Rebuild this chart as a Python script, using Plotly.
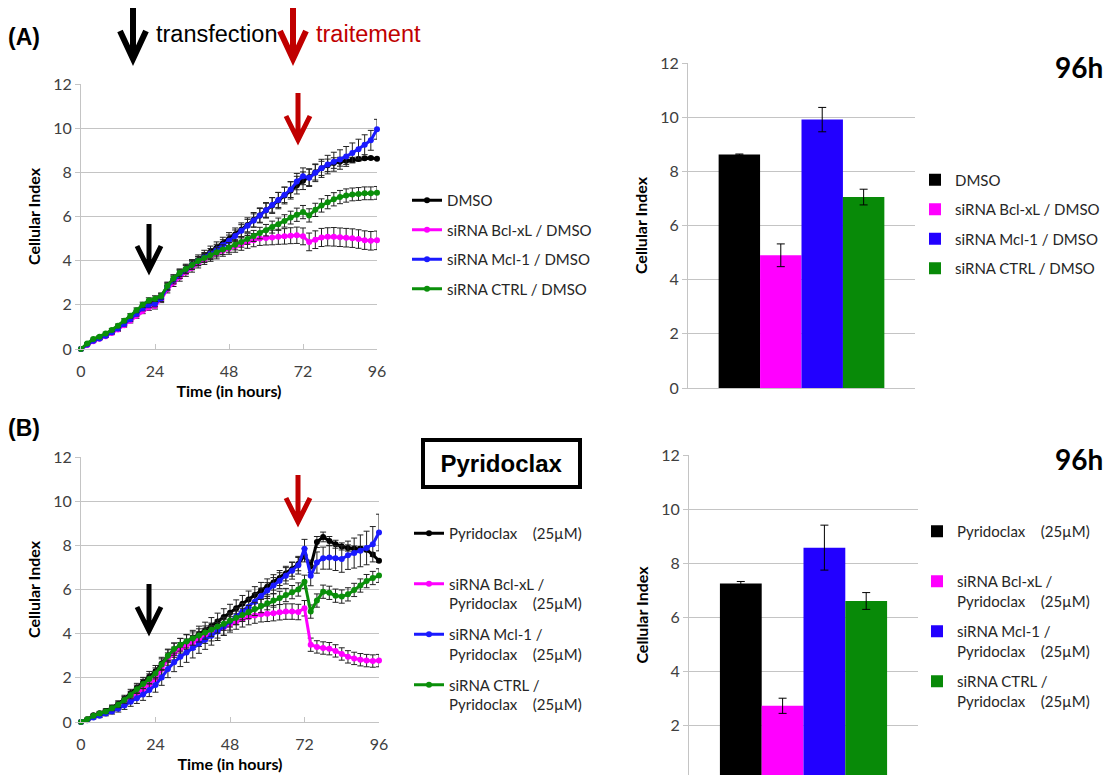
import plotly.graph_objects as go

# page body has an 8px margin, so the figure is drawn 16px smaller and every
# reference pixel position is shifted by 8px
W, H = 1099, 767
OFF = 8

# time points (hours)
hours = [0, 2, 4, 6, 8, 10, 12,
         14, 16, 18, 20, 22, 24, 26,
         28, 30, 32, 34, 36, 38, 40,
         42, 44, 46, 48, 50, 52, 54,
         56, 58, 60, 62, 64, 66, 68,
         70, 72, 74, 76, 78, 80, 82,
         84, 86, 88, 90, 92, 94, 96]

# ---- panel A : DMSO ----
a_dmso = [0.00, 0.20, 0.38, 0.50, 0.62, 0.78, 0.95,
          1.15, 1.38, 1.62, 1.85, 2.02, 2.08, 2.35,
          2.85, 3.15, 3.40, 3.62, 3.82, 4.02, 4.22,
          4.40, 4.58, 4.78, 4.98, 5.18, 5.40, 5.62,
          5.85, 6.05, 6.28, 6.50, 6.72, 6.95, 7.18,
          7.42, 7.62, 7.78, 8.00, 8.18, 8.32, 8.42,
          8.48, 8.52, 8.56, 8.60, 8.64, 8.65, 8.62]
a_bcl = [0.00, 0.18, 0.35, 0.46, 0.58, 0.72, 0.88,
         1.08, 1.28, 1.50, 1.72, 1.88, 1.95, 2.25,
         2.70, 3.00, 3.25, 3.48, 3.68, 3.88, 4.05,
         4.20, 4.32, 4.45, 4.55, 4.65, 4.75, 4.85,
         4.93, 5.00, 5.03, 5.05, 5.08, 5.10, 5.13,
         5.15, 5.10, 4.85, 4.95, 5.05, 5.08, 5.08,
         5.06, 5.04, 5.02, 4.98, 4.93, 4.90, 4.92]
a_mcl = [0.00, 0.20, 0.37, 0.48, 0.60, 0.76, 0.93,
         1.13, 1.35, 1.60, 1.85, 2.00, 2.05, 2.30,
         2.80, 3.12, 3.38, 3.60, 3.80, 3.98, 4.15,
         4.32, 4.50, 4.70, 4.90, 5.12, 5.35, 5.58,
         5.82, 6.05, 6.28, 6.52, 6.75, 6.98, 7.22,
         7.58, 7.82, 7.75, 7.98, 8.18, 8.35, 8.48,
         8.58, 8.72, 8.88, 9.05, 9.25, 9.45, 9.95]
a_ctrl = [0.00, 0.25, 0.45, 0.56, 0.70, 0.86, 1.05,
          1.28, 1.50, 1.75, 2.00, 2.20, 2.28, 2.40,
          2.85, 3.20, 3.45, 3.62, 3.80, 3.98, 4.12,
          4.25, 4.38, 4.50, 4.60, 4.72, 4.85, 4.98,
          5.12, 5.25, 5.38, 5.52, 5.65, 5.80, 5.95,
          6.08, 6.20, 6.05, 6.30, 6.50, 6.65, 6.78,
          6.88, 6.95, 7.00, 7.02, 7.05, 7.05, 7.07]

a_dmso_err = [0.00, 0.03, 0.04, 0.05, 0.06, 0.07, 0.08,
              0.09, 0.10, 0.11, 0.12, 0.13, 0.14, 0.16,
              0.18, 0.20, 0.21, 0.22, 0.23, 0.24, 0.25,
              0.26, 0.27, 0.28, 0.29, 0.30, 0.31, 0.32,
              0.33, 0.34, 0.35, 0.36, 0.37, 0.38, 0.39,
              0.40, 0.40, 0.38, 0.35, 0.32, 0.28, 0.24,
              0.20, 0.16, 0.12, 0.09, 0.06, 0.04, 0.02]
a_bcl_err = [0.00, 0.03, 0.04, 0.05, 0.06, 0.07, 0.08,
             0.09, 0.10, 0.11, 0.12, 0.13, 0.14, 0.15,
             0.16, 0.17, 0.18, 0.19, 0.20, 0.21, 0.22,
             0.23, 0.24, 0.25, 0.26, 0.27, 0.28, 0.29,
             0.30, 0.31, 0.32, 0.33, 0.34, 0.35, 0.36,
             0.37, 0.38, 0.40, 0.40, 0.41, 0.41, 0.42,
             0.42, 0.42, 0.42, 0.42, 0.42, 0.42, 0.42]
a_mcl_err = [0.00, 0.03, 0.04, 0.05, 0.06, 0.07, 0.08,
             0.09, 0.10, 0.11, 0.12, 0.13, 0.14, 0.15,
             0.16, 0.17, 0.18, 0.19, 0.20, 0.21, 0.22,
             0.23, 0.24, 0.25, 0.26, 0.27, 0.28, 0.29,
             0.30, 0.31, 0.32, 0.33, 0.34, 0.35, 0.36,
             0.37, 0.38, 0.39, 0.40, 0.41, 0.42, 0.43,
             0.44, 0.45, 0.45, 0.45, 0.45, 0.45, 0.45]
a_ctrl_err = [0.00, 0.03, 0.04, 0.05, 0.06, 0.07, 0.08,
              0.09, 0.10, 0.11, 0.12, 0.12, 0.13, 0.14,
              0.15, 0.16, 0.17, 0.18, 0.18, 0.19, 0.20,
              0.20, 0.21, 0.22, 0.22, 0.23, 0.24, 0.24,
              0.25, 0.26, 0.26, 0.27, 0.28, 0.28, 0.29,
              0.30, 0.30, 0.30, 0.30, 0.30, 0.30, 0.30,
              0.30, 0.30, 0.29, 0.29, 0.29, 0.29, 0.29]

# ---- panel B : Pyridoclax ----
b_pyr = [0.00, 0.12, 0.30, 0.40, 0.50, 0.65, 0.82,
         1.05, 1.30, 1.55, 1.80, 2.05, 2.30, 2.65,
         3.00, 3.25, 3.45, 3.62, 3.80, 3.98, 4.15,
         4.35, 4.55, 4.75, 4.95, 5.15, 5.35, 5.55,
         5.75, 5.95, 6.12, 6.32, 6.52, 6.72, 6.92,
         7.15, 7.55, 7.05, 8.15, 8.38, 8.20, 8.05,
         7.95, 7.88, 7.85, 7.85, 7.80, 7.58, 7.30]
b_bcl = [0.00, 0.10, 0.25, 0.35, 0.45, 0.58, 0.72,
         0.90, 1.08, 1.28, 1.48, 1.70, 1.95, 2.40,
         2.85, 3.10, 3.30, 3.45, 3.60, 3.75, 3.90,
         4.02, 4.15, 4.28, 4.42, 4.55, 4.65, 4.75,
         4.82, 4.88, 4.90, 4.93, 4.97, 5.00, 5.00,
         4.98, 5.15, 3.50, 3.40, 3.35, 3.32, 3.22,
         3.08, 2.95, 2.88, 2.82, 2.78, 2.76, 2.78]
b_mcl = [0.00, 0.08, 0.20, 0.28, 0.38, 0.48, 0.60,
         0.75, 0.92, 1.08, 1.25, 1.45, 1.68, 2.02,
         2.40, 2.70, 2.95, 3.15, 3.35, 3.55, 3.72,
         3.90, 4.10, 4.32, 4.55, 4.78, 5.00, 5.22,
         5.45, 5.70, 5.95, 6.18, 6.40, 6.62, 6.85,
         7.10, 7.85, 6.62, 7.22, 7.42, 7.45, 7.42,
         7.38, 7.55, 7.65, 7.75, 7.88, 8.05, 8.58]
b_ctrl = [0.00, 0.12, 0.28, 0.38, 0.48, 0.62, 0.78,
          1.00, 1.22, 1.48, 1.72, 1.95, 2.20, 2.60,
          3.00, 3.30, 3.50, 3.65, 3.78, 3.92, 4.05,
          4.18, 4.32, 4.45, 4.60, 4.72, 4.85, 4.98,
          5.12, 5.25, 5.38, 5.50, 5.62, 5.75, 5.88,
          6.00, 6.35, 5.00, 5.50, 5.90, 5.85, 5.72,
          5.68, 5.78, 5.98, 6.18, 6.38, 6.52, 6.63]

b_pyr_err = [0.00, 0.04, 0.06, 0.08, 0.10, 0.12, 0.14,
             0.16, 0.18, 0.20, 0.22, 0.24, 0.26, 0.28,
             0.30, 0.32, 0.33, 0.34, 0.35, 0.36, 0.37,
             0.38, 0.38, 0.38, 0.38, 0.38, 0.38, 0.38,
             0.38, 0.37, 0.36, 0.35, 0.34, 0.33, 0.32,
             0.30, 0.30, 0.28, 0.25, 0.22, 0.20, 0.18,
             0.16, 0.14, 0.12, 0.10, 0.09, 0.08, 0.07]
b_bcl_err = [0.00, 0.03, 0.05, 0.07, 0.09, 0.11, 0.13,
             0.15, 0.17, 0.19, 0.21, 0.23, 0.25, 0.27,
             0.28, 0.29, 0.30, 0.31, 0.32, 0.33, 0.34,
             0.35, 0.35, 0.35, 0.35, 0.35, 0.35, 0.35,
             0.35, 0.35, 0.35, 0.35, 0.35, 0.35, 0.35,
             0.35, 0.35, 0.30, 0.28, 0.28, 0.28, 0.28,
             0.28, 0.28, 0.28, 0.28, 0.28, 0.28, 0.28]
b_mcl_err = [0.00, 0.04, 0.06, 0.08, 0.10, 0.12, 0.15,
             0.18, 0.21, 0.24, 0.27, 0.30, 0.33, 0.36,
             0.39, 0.42, 0.44, 0.45, 0.45, 0.44, 0.43,
             0.42, 0.41, 0.40, 0.39, 0.38, 0.37, 0.36,
             0.36, 0.36, 0.36, 0.36, 0.36, 0.37, 0.38,
             0.40, 0.42, 0.45, 0.48, 0.50, 0.53, 0.56,
             0.60, 0.64, 0.68, 0.72, 0.76, 0.80, 0.83]
b_ctrl_err = [0.00, 0.03, 0.05, 0.07, 0.09, 0.11, 0.13,
              0.15, 0.17, 0.19, 0.21, 0.23, 0.25, 0.26,
              0.27, 0.28, 0.29, 0.30, 0.30, 0.30, 0.30,
              0.30, 0.30, 0.30, 0.30, 0.30, 0.30, 0.30,
              0.30, 0.30, 0.30, 0.30, 0.30, 0.30, 0.30,
              0.30, 0.30, 0.30, 0.30, 0.30, 0.30, 0.30,
              0.30, 0.30, 0.30, 0.30, 0.30, 0.30, 0.31]

# ---- bars at 96h ----
a_bar = [8.62, 4.90, 9.91, 7.05]
a_bar_err = [0.02, 0.42, 0.45, 0.29]
b_bar = [7.26, 2.74, 8.58, 6.61]
b_bar_err = [0.07, 0.28, 0.83, 0.31]

nb = "\u00a0"
labels_a = ["DMSO", "siRNA Bcl-xL / DMSO", "siRNA Mcl-1 / DMSO", "siRNA CTRL / DMSO"]
pyr = "Pyridoclax" + nb * 4 + "(25µM)"
labels_b = [pyr + "<br>" + nb, "siRNA Bcl-xL /<br>" + pyr,
            "siRNA Mcl-1 /<br>" + pyr, "siRNA CTRL /<br>" + pyr]

line_colors = ["#000000", "#ff00ff", "#1a1aff", "#0a8f0a"]
bar_colors = ["#000000", "#ff00ff", "#2200ff", "#088a08"]

FONT = "Lato"
TICK = dict(family=FONT, size=16, color="#404040")
GRID = "#c4c4c4"


def px(x):
    return (x - OFF) / W


def py(y):
    return 1 - (y - OFF) / H


fig = go.Figure()

series_a = [(a_dmso, a_dmso_err), (a_bcl, a_bcl_err), (a_mcl, a_mcl_err), (a_ctrl, a_ctrl_err)]
series_b = [(b_pyr, b_pyr_err), (b_bcl, b_bcl_err), (b_mcl, b_mcl_err), (b_ctrl, b_ctrl_err)]

for i, (vals, err) in enumerate(series_a):
    fig.add_trace(go.Scatter(
        x=hours, y=vals, mode="lines+markers", name=labels_a[i],
        line=dict(color=line_colors[i], width=3), marker=dict(size=6, color=line_colors[i]),
        error_y=dict(type="data", array=err, color="#222222", thickness=1, width=3),
        xaxis="x", yaxis="y", legend="legend", legendgroup="a%d" % i, cliponaxis=False))

for i in range(4):
    fig.add_trace(go.Bar(
        x=[""], y=[a_bar[i]], name=labels_a[i], marker=dict(color=bar_colors[i], line=dict(width=0)),
        error_y=dict(type="data", array=[a_bar_err[i]], color="#000000", thickness=1, width=4),
        xaxis="x2", yaxis="y2", legend="legend2", legendgroup="ab%d" % i))

for i, (vals, err) in enumerate(series_b):
    fig.add_trace(go.Scatter(
        x=hours, y=vals, mode="lines+markers", name=labels_b[i],
        line=dict(color=line_colors[i], width=3), marker=dict(size=6, color=line_colors[i]),
        error_y=dict(type="data", array=err, color="#222222", thickness=1, width=3),
        xaxis="x3", yaxis="y3", legend="legend3", legendgroup="b%d" % i, cliponaxis=False))

for i in range(4):
    fig.add_trace(go.Bar(
        x=[""], y=[b_bar[i]], name=labels_b[i], marker=dict(color=bar_colors[i], line=dict(width=0)),
        error_y=dict(type="data", array=[b_bar_err[i]], color="#000000", thickness=1, width=4),
        xaxis="x4", yaxis="y4", legend="legend4", legendgroup="bb%d" % i))

yax = dict(range=[0, 12], dtick=2, showgrid=True, gridcolor=GRID, gridwidth=1,
           showline=True, linecolor=GRID, ticks="outside", ticklen=5, tickcolor=GRID,
           zeroline=False, tickfont=TICK, automargin=False,
           title=dict(text="<b>Cellular Index</b>", font=dict(family=FONT, size=16, color="#000"), standoff=8))
xline = dict(range=[0, 96], tickvals=[0, 24, 48, 72, 96], showgrid=False, showline=True,
             linecolor=GRID, ticks="inside", ticklen=5, tickcolor=GRID, zeroline=False,
             tickfont=TICK, ticklabelstandoff=8, automargin=False,
             title=dict(text="<b>Time (in hours)</b>", font=dict(family=FONT, size=16, color="#000"), standoff=6))
xbar = dict(type="category", showticklabels=False, showgrid=False, showline=True,
            linecolor=GRID, ticks="", zeroline=False, automargin=False)

# the lower bar panel runs past the bottom of the page in the reference:
# its y=0 line sits at 780 px, the visible page ends at 775 px
b4_top, b4_zero, page_bottom = 455, 780, OFF + H
yax4 = dict(yax)
yax4["range"] = [12 * (b4_zero - page_bottom) / (b4_zero - b4_top), 12]

leg_common = dict(bgcolor="rgba(0,0,0,0)", borderwidth=0, xanchor="left", yanchor="top",
                  font=dict(family=FONT, size=15, color="#262626"), traceorder="grouped")

fig.update_layout(
    width=W, height=H, margin=dict(l=0, r=0, t=0, b=0, autoexpand=False),
    paper_bgcolor="white", plot_bgcolor="white",
    barmode="group", bargap=0.27, bargroupgap=0,
    xaxis=dict(domain=[px(81), px(377)], anchor="y", **xline),
    yaxis=dict(domain=[py(349), py(84)], anchor="x", **yax),
    xaxis2=dict(domain=[px(688), px(915)], anchor="y2", **xbar),
    yaxis2=dict(domain=[py(388), py(63)], anchor="x2", **yax),
    xaxis3=dict(domain=[px(81), px(379)], anchor="y3", **xline),
    yaxis3=dict(domain=[py(722), py(457)], anchor="x3", **yax),
    xaxis4=dict(domain=[px(689), px(918)], anchor="y4", **xbar),
    yaxis4=dict(domain=[0, py(b4_top)], anchor="x4", **yax4),
    legend=dict(x=px(407), y=py(184), tracegroupgap=7, **leg_common),
    legend2=dict(x=px(915), y=py(163.5), tracegroupgap=7, **leg_common),
    legend3=dict(x=px(409), y=py(517), tracegroupgap=8.5, valign="top", **leg_common),
    legend4=dict(x=px(917), y=py(515), tracegroupgap=8, valign="top", **leg_common),
)

# text labels
ann = [
    dict(text="<b>(A)</b>", x=px(24), y=py(37), font=dict(family="Liberation Sans", size=23, color="#000")),
    dict(text="<b>(B)</b>", x=px(24), y=py(428), font=dict(family="Liberation Sans", size=23, color="#000")),
    dict(text="transfection", x=px(216), y=py(34), font=dict(family="Liberation Sans", size=23.5, color="#000")),
    dict(text="traitement", x=px(368), y=py(34), font=dict(family="Liberation Sans", size=23.5, color="#c00000")),
    dict(text="<b>96h</b>", x=px(1105), y=py(67), xanchor="right", font=dict(family=FONT, size=28, color="#000")),
    dict(text="<b>96h</b>", x=px(1105), y=py(459), xanchor="right", font=dict(family=FONT, size=28, color="#000")),
    dict(text="<b>Pyridoclax</b>", x=px(501), y=py(463), width=153, height=43,
         bordercolor="#000", borderwidth=4, borderpad=0,
         font=dict(family="Liberation Sans", size=24, color="#000")),
]
for a in ann:
    a.setdefault("xanchor", "center")
    a.update(xref="paper", yref="paper", showarrow=False, yanchor="middle")
    fig.add_annotation(**a)


def arrow(cx, top, tip, color, half=13, head=28, w=6):
    v = tip - 7
    path = (f"M {px(cx)},{py(top)} L {px(cx)},{py(v)} "
            f"M {px(cx - half)},{py(v - head)} L {px(cx)},{py(v)} L {px(cx + half)},{py(v - head)}")
    fig.add_shape(type="path", path=path, xref="paper", yref="paper",
                  line=dict(color=color, width=w))


arrow(133, 8, 66, "#000000")
arrow(293, 8, 66, "#c00000")
arrow(149, 224, 277, "#000000", half=12, head=24, w=5)
arrow(298, 93, 147, "#c00000", half=12, head=24, w=5)
arrow(149, 584, 638, "#000000", half=12, head=24, w=5)
arrow(298, 475, 529, "#c00000", half=12, head=24, w=5)

fig.write_html("out.html")
